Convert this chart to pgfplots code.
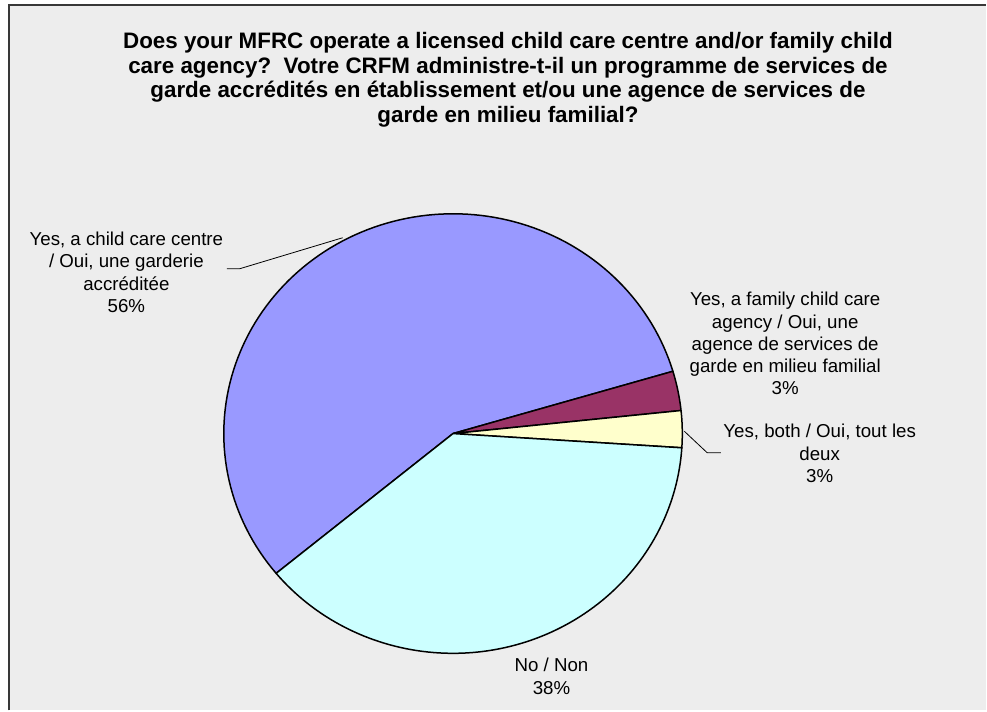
\documentclass[border=0pt]{standalone}
\usepackage{pgfplots}
\pgfplotsset{compat=1.18}
\usepackage{pgfplotstable}
\usepackage{fontspec}
\setmainfont{Liberation Sans}

\definecolor{bgc}{HTML}{EDEDED}
\definecolor{pieA}{HTML}{9999FF}
\definecolor{pieB}{HTML}{993366}
\definecolor{pieC}{HTML}{FFFFCC}
\definecolor{pieD}{HTML}{CCFFFF}

\pgfplotstableread{
slice value
1 56.4
2 2.9
3 2.7
4 38.0
}\piedata

\begin{document}
\begin{tikzpicture}
\pgfplotstablegetelem{0}{value}\of\piedata \let\vA\pgfplotsretval
\pgfplotstablegetelem{1}{value}\of\piedata \let\vB\pgfplotsretval
\pgfplotstablegetelem{2}{value}\of\piedata \let\vC\pgfplotsretval
\pgfplotstablegetelem{3}{value}\of\piedata \let\vD\pgfplotsretval
\pgfmathsetmacro\azero{219.5}
\pgfmathsetmacro\aone{\azero-3.6*\vA}
\pgfmathsetmacro\atwo{\aone-3.6*\vB}
\pgfmathsetmacro\athree{\atwo-3.6*\vC}
\pgfmathsetmacro\afour{\athree-3.6*\vD}
\begin{axis}[
  scale only axis, width=987pt, height=711pt,
  xmin=0, xmax=987, ymin=0, ymax=711,
  hide axis, clip=false,
]
\fill[white] (axis cs:0,0) rectangle (axis cs:987,711);
\fill[bgc] (axis cs:8,0) rectangle (axis cs:987,706.5);
\draw[black!78, line width=2pt] (axis cs:9,0) -- (axis cs:9,706) -- (axis cs:987,706);

\addplot[fill=pieA, draw=black, line width=1.5pt, line join=round, domain=\aone:\azero, samples=120, variable=\t]
  ({453.5+229.5*cos(\t)},{277+220*sin(\t)}) -- (axis cs:453.5,277) -- cycle;
\addplot[fill=pieB, draw=black, line width=1.5pt, line join=round, domain=\atwo:\aone, samples=20, variable=\t]
  ({453.5+229.5*cos(\t)},{277+220*sin(\t)}) -- (axis cs:453.5,277) -- cycle;
\addplot[fill=pieC, draw=black, line width=1.5pt, line join=round, domain=\athree:\atwo, samples=20, variable=\t]
  ({453.5+229.5*cos(\t)},{277+220*sin(\t)}) -- (axis cs:453.5,277) -- cycle;
\addplot[fill=pieD, draw=black, line width=1.5pt, line join=round, domain=\afour:\athree, samples=100, variable=\t]
  ({453.5+229.5*cos(\t)},{277+220*sin(\t)}) -- (axis cs:453.5,277) -- cycle;

\draw[black, line width=0.8pt] (axis cs:227,442) -- (axis cs:240,442) -- (axis cs:343,473);
\draw[black, line width=0.8pt] (axis cs:685,279.3) -- (axis cs:708,257.7) -- (axis cs:721.7,257.7);

\node[align=center, inner sep=0pt, font=\fontsize{22.4}{24.7}\selectfont\bfseries] at (axis cs:508.5,631)
  {Does your MFRC operate a licensed child care centre and/or family child\\
   care agency?\ \ Votre CRFM administre-t-il un programme de services de\\
   garde accrédités en établissement et/ou une agence de services de\\
   garde en milieu familial?};

\node[align=center, inner sep=0pt, font=\fontsize{18.7}{22.3}\selectfont] at (axis cs:126.5,438.5)
  {Yes, a child care centre\\/ Oui, une garderie\\accréditée\\56\%};
\node[align=center, inner sep=0pt, font=\fontsize{18.7}{22.3}\selectfont] at (axis cs:786,367)
  {Yes, a family child care\\agency / Oui, une\\agence de services de\\garde en milieu familial\\3\%};
\node[align=center, inner sep=0pt, font=\fontsize{18.7}{22.3}\selectfont] at (axis cs:820.5,257)
  {Yes, both / Oui, tout les\\deux\\3\%};
\node[align=center, inner sep=0pt, font=\fontsize{18.7}{22.3}\selectfont] at (axis cs:552,34)
  {No / Non\\38\%};
\end{axis}
\end{tikzpicture}
\end{document}
